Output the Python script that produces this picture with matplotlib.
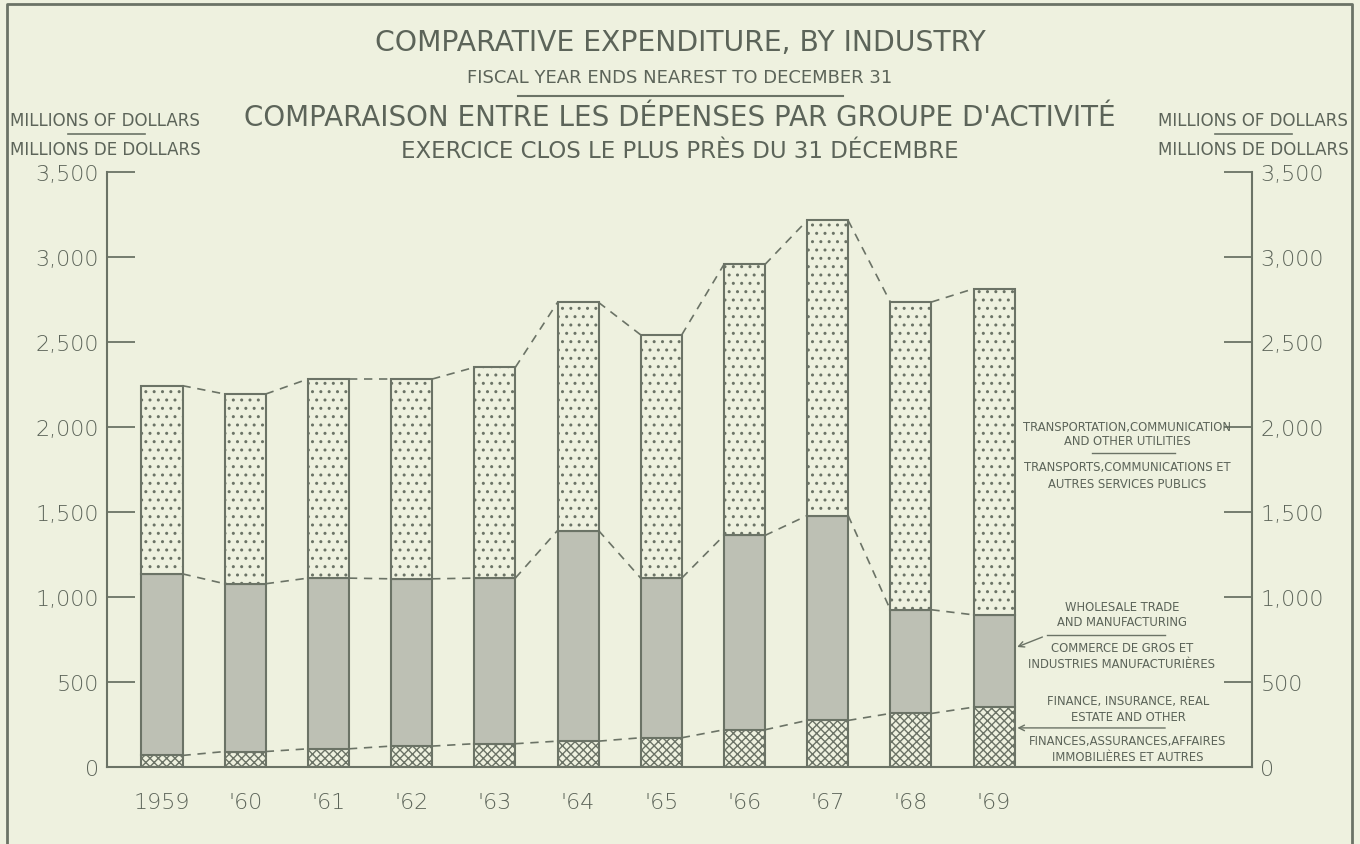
import matplotlib
matplotlib.use("Agg")
import matplotlib.pyplot as plt
from matplotlib import font_manager
import numpy as np

# values, millions of dollars
years = ["1959", "'60", "'61", "'62", "'63", "'64", "'65", "'66", "'67", "'68", "'69"]
finance = [68, 91, 107, 123, 137, 152, 172, 219, 274, 315, 352]
wholesale_top = [1136, 1078, 1111, 1107, 1111, 1391, 1111, 1362, 1479, 925, 895]
total = [2243, 2194, 2282, 2282, 2351, 2733, 2542, 2956, 3215, 2735, 2813]

wholesale = [w - f for w, f in zip(wholesale_top, finance)]
transport = [t - w for t, w in zip(total, wholesale_top)]

yticks = [0, 500, 1000, 1500, 2000, 2500, 3000, 3500]
ytick_labels = ["0", "500", "1,000", "1,500", "2,000", "2,500", "3,000", "3,500"]

bg = "#eef1df"
ink = "#6b7366"
txt = "#5c6459"
gray_fill = "#bdc0b4"

# is there a condensed DejaVu around?
have_cond = any(f.name == "DejaVu Sans" and "condensed" in str(f.stretch).lower()
                for f in font_manager.fontManager.ttflist)
stretch = "condensed" if have_cond else "normal"
k = 1.0 if have_cond else 0.9

plt.rcParams["hatch.linewidth"] = 1.0

fig = plt.figure(figsize=(13.6, 8.45), dpi=100, facecolor=bg)
W, H = 1360.0, 845.0


def fx(px):
    return px / W


def fy(py):
    return 1 - py / H


ax = fig.add_axes([fx(107), fy(768), fx(1252) - fx(107), fy(173) - fy(768)])
ax.set_facecolor(bg)

x = np.arange(len(years))
w = 0.493

ax.bar(x, finance, w, color=bg, edgecolor=ink, hatch="xxxx", linewidth=1.5)
ax.bar(x, wholesale, w, bottom=finance, color=gray_fill, edgecolor=ink, linewidth=1.5)
ax.bar(x, transport, w, bottom=wholesale_top, color=bg, edgecolor=ink, hatch="..", linewidth=1.5)

# dashed connectors between bar tops
for series in (finance, wholesale_top, total):
    for i in range(len(x) - 1):
        ax.plot([x[i] + w / 2, x[i + 1] - w / 2], [series[i], series[i + 1]],
                color=ink, lw=1.2, ls=(0, (5, 4)))

ax.set_ylim(0, 3500)
ax.set_xlim(-0.661, 13.10)
ax.spines["top"].set_visible(False)
for s in ("left", "right", "bottom"):
    ax.spines[s].set_color(ink)
    ax.spines[s].set_linewidth(1.5)

ax.set_yticks(yticks)
ax.set_yticklabels(ytick_labels)
ax.tick_params(axis="y", direction="in", length=20, width=1.3, color=ink,
               labelsize=16, labelcolor=txt, right=True, labelright=True, pad=6)
ax.set_xticks(x)
ax.set_xticklabels(years)
ax.tick_params(axis="x", length=0, labelsize=16, labelcolor=txt, pad=18)
for lab in ax.get_xticklabels() + ax.get_yticklabels():
    lab.set_fontfamily("DejaVu Sans")
    lab.set_fontweight("light")

# titles
fig.text(0.5, fy(43), "COMPARATIVE EXPENDITURE, BY INDUSTRY", ha="center", va="center",
         fontsize=20.3, color=txt)
fig.text(0.5, fy(78), "FISCAL YEAR ENDS NEAREST TO DECEMBER 31", ha="center", va="center",
         fontsize=13, color=txt)
fig.add_artist(plt.Line2D([fx(518), fx(843)], [fy(97), fy(97)], color=ink, lw=1.5))
fig.text(0.5, fy(118), "COMPARAISON ENTRE LES DÉPENSES PAR GROUPE D'ACTIVITÉ", ha="center",
         va="center", fontsize=20, color=txt)
fig.text(0.5, fy(151), "EXERCICE CLOS LE PLUS PRÈS DU 31 DÉCEMBRE", ha="center", va="center",
         fontsize=16.5, color=txt)

# unit labels
for cx, x0, x1 in ((105, 68, 145), (1253, 1215, 1292)):
    fig.text(fx(cx), fy(121), "MILLIONS OF DOLLARS", ha="center", va="center",
             fontsize=12, color=txt)
    fig.add_artist(plt.Line2D([fx(x0), fx(x1)], [fy(135), fy(135)], color=ink, lw=1.2))
    fig.text(fx(cx), fy(150), "MILLIONS DE DOLLARS", ha="center", va="center",
             fontsize=12, color=txt)

# series labels on the right
lab_kw = dict(ha="center", va="center", fontsize=9.3 * k, color=txt, fontstretch=stretch)
fig.text(fx(1127), fy(427), "TRANSPORTATION,COMMUNICATION", **lab_kw)
fig.text(fx(1127), fy(442), "AND OTHER UTILITIES", **lab_kw)
fig.add_artist(plt.Line2D([fx(1092), fx(1175)], [fy(454), fy(454)], color=ink, lw=1.0))
fig.text(fx(1127), fy(468), "TRANSPORTS,COMMUNICATIONS ET", **lab_kw)
fig.text(fx(1127), fy(485), "AUTRES SERVICES PUBLICS", **lab_kw)

fig.text(fx(1122), fy(608), "WHOLESALE TRADE", **lab_kw)
fig.text(fx(1122), fy(623), "AND MANUFACTURING", **lab_kw)
fig.add_artist(plt.Line2D([fx(1047), fx(1165)], [fy(636), fy(636)], color=ink, lw=1.0))
fig.text(fx(1122), fy(649), "COMMERCE DE GROS ET", **lab_kw)
fig.text(fx(1122), fy(665), "INDUSTRIES MANUFACTURIÈRES", **lab_kw)
ax.annotate("", xy=(x[-1] + w / 2, 700), xycoords="data",
            xytext=(fx(1045), fy(637)), textcoords="figure fraction",
            arrowprops=dict(arrowstyle="->", color=ink, lw=1.0))

fig.text(fx(1128), fy(702), "FINANCE, INSURANCE, REAL", **lab_kw)
fig.text(fx(1128), fy(718), "ESTATE AND OTHER", **lab_kw)
ax.annotate("", xy=(x[-1] + w / 2, 230), xycoords="data",
            xytext=(fx(1168), fy(729)), textcoords="figure fraction",
            arrowprops=dict(arrowstyle="->", color=ink, lw=1.0))
fig.text(fx(1128), fy(742), "FINANCES,ASSURANCES,AFFAIRES", **lab_kw)
fig.text(fx(1128), fy(758), "IMMOBILIÈRES ET AUTRES", **lab_kw)

# outer frame
fig.add_artist(plt.Line2D([fx(7), fx(7), fx(1352), fx(1352)], [0, fy(5), fy(5), 0],
                          color=ink, lw=2.0))

fig.savefig("out.png", dpi=100, facecolor=bg)
